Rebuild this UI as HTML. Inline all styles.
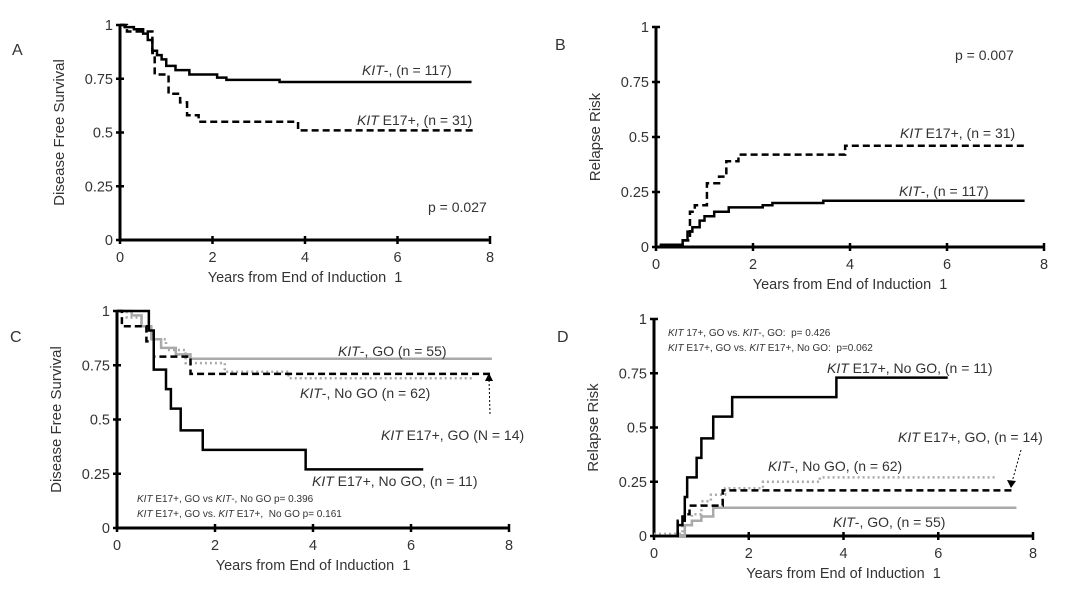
<!DOCTYPE html>
<html><head><meta charset="utf-8"><style>
body{margin:0;background:#fff;}
svg{display:block;font-family:"Liberation Sans",Arial,sans-serif;}
</style></head><body>
<svg id="fig" width="1080" height="592" viewBox="0 0 1080 592"></svg>
<script>
// ---- data ----
const xTicks=[0,2,4,6,8];
const yTicks=[0,0.25,0.5,0.75,1];
const yTickLabels=["0","0.25","0.5","0.75","1"];
// Panel A
const aKitNegT=[0,0.1,0.3,0.5,0.6,0.7,0.8,0.9,1.0,1.2,1.5,2.1,2.3,3.45];
const aKitNegV=[1,0.99,0.98,0.96,0.93,0.88,0.86,0.84,0.81,0.79,0.77,0.755,0.745,0.735];
const aKitPosT=[0,0.15,0.25,0.7,0.75,1.05,1.3,1.45,1.7,3.85];
const aKitPosV=[1,0.97,0.97,0.87,0.77,0.68,0.64,0.58,0.55,0.51];
// Panel B
const bKitPosT=[0,0.55,0.7,0.8,1.05,1.3,1.45,1.7,3.9];
const bKitPosV=[0,0.03,0.16,0.19,0.29,0.32,0.39,0.42,0.46];
const bKitNegT=[0,0.1,0.55,0.65,0.75,0.9,1.0,1.2,1.5,2.2,2.4,3.45];
const bKitNegV=[0,0.01,0.03,0.07,0.09,0.12,0.14,0.16,0.18,0.19,0.2,0.21];
// Panel C
const cNegGoT=[0,0.3,0.5,0.7,0.9,1.2,1.5];
const cNegGoV=[1,0.98,0.93,0.87,0.83,0.8,0.78];
const cNegNoGoT=[0,0.2,0.5,0.7,1.0,1.4,2.2,3.5];
const cNegNoGoV=[1,0.97,0.93,0.87,0.82,0.76,0.72,0.69];
const cPosGoT=[0,0.1,0.6,0.75,1.5];
const cPosGoV=[1,0.93,0.86,0.79,0.71];
const cPosNoGoT=[0,0.65,0.75,1.0,1.1,1.3,1.75,3.85];
const cPosNoGoV=[1,0.91,0.73,0.64,0.55,0.45,0.36,0.27];
// Panel D
const dPosNoGoT=[0,0.5,0.6,0.65,0.7,0.9,1.0,1.25,1.65,3.85];
const dPosNoGoV=[0,0.05,0.09,0.18,0.27,0.36,0.45,0.55,0.64,0.73];
const dPosGoT=[0,0.5,0.65,0.75,1.45];
const dPosGoV=[0,0.07,0.1,0.14,0.21];
const dNegNoGoT=[0,0.6,0.8,1.0,1.2,1.5,2.3,3.5];
const dNegNoGoV=[0.01,0.05,0.1,0.16,0.19,0.22,0.25,0.27];
const dNegGoT=[0,0.65,0.8,1.0,1.25];
const dNegGoV=[0,0.05,0.07,0.09,0.13];

const NS="http://www.w3.org/2000/svg";
const svg=document.getElementById('fig');
function el(tag,attrs,parent,text){const e=document.createElementNS(NS,tag);for(const k in attrs)e.setAttribute(k,attrs[k]);if(text!==undefined)e.innerHTML=text;(parent||svg).appendChild(e);return e;}

function panel(p){
  const g=el('g',{});
  
  
  const sx=v=>p.x0+(p.x8-p.x0)*v/8, sy=v=>p.y0-(p.y0-p.y1)*v;
  p.sx=sx;p.sy=sy;
  const lab=el('text',{x:p.lx,y:p.ly,'font-size':16,fill:'#333'},g,p.id);
  
  const ax=el('path',{d:`M${sx(0)},${sy(1)} V${sy(0)} H${sx(8)}`,stroke:'#000','stroke-width':3,fill:'none'},g);
  
  yTicks.forEach((t,i)=>{
    el('line',{x1:sx(0)-4,x2:sx(0)+4,y1:sy(t),y2:sy(t),stroke:'#000','stroke-width':2.5},g);
    const tl=el('text',{x:sx(0)-7,y:sy(t)+5,'text-anchor':'end','font-size':14.5,fill:'#333'},g,yTickLabels[i]);
    
  });
  xTicks.forEach(t=>{
    el('line',{x1:sx(t),x2:sx(t),y1:sy(0)-4,y2:sy(0)+4,stroke:'#000','stroke-width':2.5},g);
    const tl=el('text',{x:sx(t),y:sy(0)+22,'text-anchor':'middle','font-size':14.5,fill:'#333'},g,String(t));
    
  });
  const xt=el('text',{x:(sx(0)+sx(8))/2,y:sy(0)+42,'text-anchor':'middle','font-size':14.5,fill:'#333'},g,'Years from End of Induction&#160; 1');
  
  const ycx=p.x0-56, ycy=(p.y0+p.y1)/2;
  const yt=el('text',{x:ycx,y:ycy,'text-anchor':'middle','font-size':15,fill:'#333',transform:`rotate(-90 ${ycx} ${ycy})`},g,p.ytitle);
  
  p.g=g;return p;
}
function series(p,T,V,end,style,name){
  let d=`M${p.sx(T[0])},${p.sy(V[0])}`;
  for(let i=1;i<T.length;i++){d+=` H${p.sx(T[i])} V${p.sy(V[i])}`;}
  d+=` H${p.sx(end)}`;
  const e=el('path',Object.assign({d:d,fill:'none'},style),p.g);
  
  
}
function txt(p,x,y,html,size,name){
  const e=el('text',{x:x,y:y,'font-size':size||14,fill:'#333'},p.g,html);
  
  
}
const solid={stroke:'#000','stroke-width':2.5};
const dash={stroke:'#000','stroke-width':2.5,'stroke-dasharray':'7,4'};
const grey={stroke:'#aaa','stroke-width':2.5};
const dotg={stroke:'#aaa','stroke-width':2.5,'stroke-dasharray':'2,3'};

const A=panel({id:'A',x0:120,x8:490,y0:240,y1:25,lx:12,ly:55,ytitle:'Disease Free Survival'});
series(A,aKitNegT,aKitNegV,7.6,solid,'kit-neg-line');
series(A,aKitPosT,aKitPosV,7.65,dash,'kit-e17-line');
txt(A,362,75,'<tspan font-style="italic">KIT</tspan>-, (n = 117)',14,'kit-neg-label');
txt(A,357,125,'<tspan font-style="italic">KIT</tspan> E17+, (n = 31)',14,'kit-e17-label');
txt(A,428,212,'p = 0.027',14,'p-value');

const B=panel({id:'B',x0:656,x8:1044,y0:247,y1:27,lx:555,ly:50,ytitle:'Relapse Risk'});
series(B,bKitPosT,bKitPosV,7.6,dash,'kit-e17-line');
series(B,bKitNegT,bKitNegV,7.6,solid,'kit-neg-line');
txt(B,900,138,'<tspan font-style="italic">KIT</tspan> E17+, (n = 31)',14,'kit-e17-label');
txt(B,899,196,'<tspan font-style="italic">KIT</tspan>-, (n = 117)',14,'kit-neg-label');
txt(B,955,60,'p = 0.007',14,'p-value');

const C=panel({id:'C',x0:117,x8:509,y0:528,y1:311,lx:10,ly:342,ytitle:'Disease Free Survival'});
series(C,cNegGoT,cNegGoV,7.65,grey,'kit-neg-go-line');
series(C,cNegNoGoT,cNegNoGoV,7.3,dotg,'kit-neg-nogo-line');
series(C,cPosGoT,cPosGoV,7.65,dash,'kit-e17-go-line');
series(C,cPosNoGoT,cPosNoGoV,6.25,solid,'kit-e17-nogo-line');
txt(C,338,356,'<tspan font-style="italic">KIT</tspan>-, GO (n = 55)',14,'kit-neg-go-label');
txt(C,300,398,'<tspan font-style="italic">KIT</tspan>-, No GO (n = 62)',14,'kit-neg-nogo-label');
txt(C,381,440,'<tspan font-style="italic">KIT</tspan> E17+, GO (N = 14)',14,'kit-e17-go-label');
txt(C,312,486,'<tspan font-style="italic">KIT</tspan> E17+, No GO, (n = 11)',14,'kit-e17-nogo-label');
txt(C,137,502,'<tspan font-style="italic">KIT</tspan> E17+, GO vs <tspan font-style="italic">KIT</tspan>-, No GO p= 0.396',10,'p-value-1');
txt(C,137,517,'<tspan font-style="italic">KIT</tspan> E17+, GO vs. <tspan font-style="italic">KIT</tspan> E17+,&#160; No GO p= 0.161',10,'p-value-2');
el('line',{x1:490,y1:414,x2:489,y2:378,stroke:'#000','stroke-width':1,'stroke-dasharray':'2,2'},C.g);
el('path',{d:'M485,381 L489,373 L493,381 Z',fill:'#000'},C.g);

const D=panel({id:'D',x0:654,x8:1033,y0:536,y1:319,lx:557,ly:342,ytitle:'Relapse Risk'});
series(D,dNegGoT,dNegGoV,7.65,grey,'kit-neg-go-line');
series(D,dNegNoGoT,dNegNoGoV,7.2,dotg,'kit-neg-nogo-line');
series(D,dPosGoT,dPosGoV,7.55,dash,'kit-e17-go-line');
series(D,dPosNoGoT,dPosNoGoV,6.2,solid,'kit-e17-nogo-line');
txt(D,668,336,'<tspan font-style="italic">KIT</tspan> 17+, GO vs. <tspan font-style="italic">KIT</tspan>-, GO:&#160; p= 0.426',10,'p-value-1');
txt(D,668,351,'<tspan font-style="italic">KIT</tspan> E17+, GO vs. <tspan font-style="italic">KIT</tspan> E17+, No GO:&#160; p=0.062',10,'p-value-2');
txt(D,827,373,'<tspan font-style="italic">KIT</tspan> E17+, No GO, (n = 11)',14,'kit-e17-nogo-label');
txt(D,898,442,'<tspan font-style="italic">KIT</tspan> E17+, GO, (n = 14)',14,'kit-e17-go-label');
txt(D,768,471,'<tspan font-style="italic">KIT</tspan>-, No GO, (n = 62)',14,'kit-neg-nogo-label');
txt(D,833,527,'<tspan font-style="italic">KIT</tspan>-, GO, (n = 55)',14,'kit-neg-go-label');
el('line',{x1:1021,y1:450,x2:1012,y2:482,stroke:'#000','stroke-width':1,'stroke-dasharray':'2,2'},D.g);
el('path',{d:'M1007,480 L1011,488 L1016,481 Z',fill:'#000'},D.g);
</script>
</body></html>
